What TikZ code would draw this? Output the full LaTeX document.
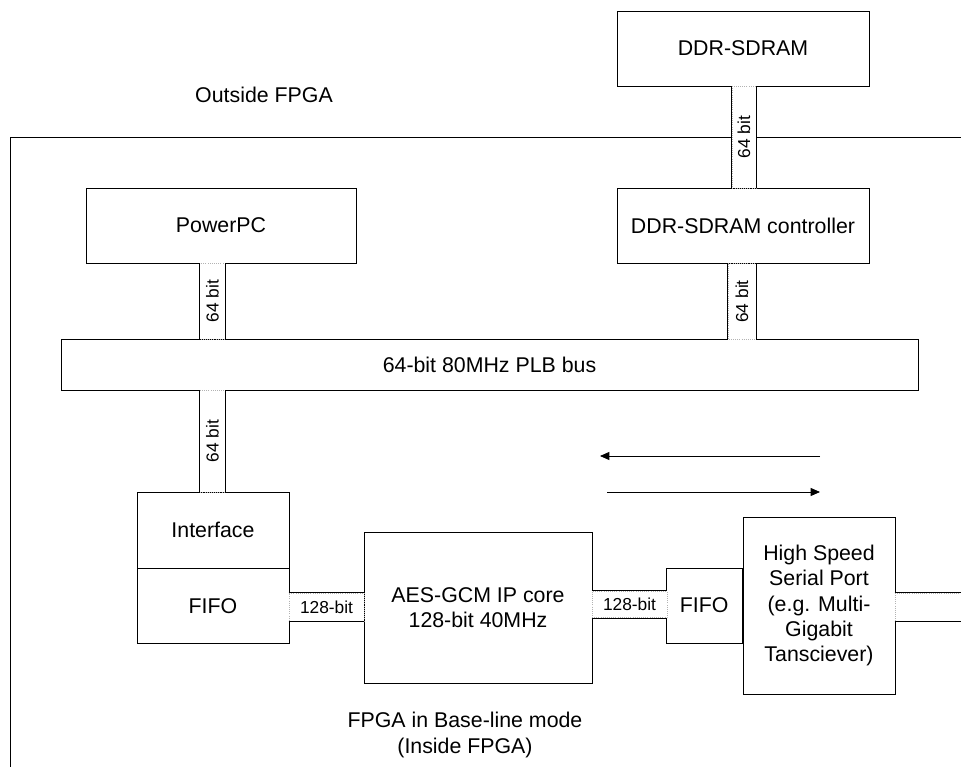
\documentclass[tikz,border=0pt]{standalone}
\usepackage{fontspec}
\setmainfont{Liberation Sans}
\usetikzlibrary{positioning}
\usetikzlibrary{arrows.meta}

\begin{document}
\begin{tikzpicture}[
            x=0.75pt, y=-0.75pt, line width=0.6pt,
            >={Triangle[length=7pt, width=6pt]},
            block/.style={draw, rectangle, inner sep=0pt, align=center, font=\fontsize{16}{19}\selectfont},
            label/.style={align=center, font=\fontsize{16}{19}\selectfont},
            vbus/.style={draw=gray!60, densely dotted, fill=white, rectangle, rotate=90, inner sep=0pt, minimum height=19pt, font=\fontsize{13}{15}\selectfont},
            hbus/.style={draw=gray!60, densely dotted, fill=white, rectangle, inner sep=0pt, minimum height=21pt, font=\fontsize{13}{15}\selectfont}
        ]
            \useasboundingbox (0,0) rectangle (961,767);

            % FPGA frame
            \draw (10,767) |- (961,137);
            \node[label] (outside) at (264,95) {Outside FPGA};
            \node[label] (inside) at (465,735) {FPGA in Base-line mode\\(Inside FPGA)};

            % Memory
            \node[block, minimum width=189pt, minimum height=56.25pt] (ddr) at (743,48.5) {DDR-SDRAM};
            \node[block, minimum width=189pt, minimum height=56.25pt, below=76.5pt of ddr] (ctrl) {DDR-SDRAM controller};

            % Processor and bus
            \node[block, minimum width=202.5pt, minimum height=56.25pt] (ppc) at (221,225.5) {PowerPC};
            \node[block, minimum width=642.75pt, minimum height=38.25pt] (plb) at (489.5,364.5) {64-bit 80MHz PLB bus};

            % Crypto path
            \node[block, minimum width=114pt, minimum height=57pt] (iface) at (213,530) {Interface};
            \node[block, minimum width=114pt, minimum height=56.25pt, below=0pt of iface] (fifol) {FIFO};
            \node[block, minimum width=171pt, minimum height=113.25pt] (aes) at (478,607.5) {AES-GCM IP core\\128-bit 40MHz};
            \node[block, minimum width=114pt, minimum height=132.75pt] (hssp) at (819,605.5) {High Speed\\Serial Port\\(e.g. Multi-\\Gigabit\\Tansciever)};
            \node[block, minimum width=57pt, minimum height=56.25pt, left=0pt of hssp] (fifor) {FIFO};

            % Buses
            \node[vbus, minimum width=76.5pt, minimum height=18pt] (ddrbus) at (744,137) {64 bit};
            \node[vbus, minimum width=57pt, minimum height=21pt] (ctrlbus) at (742,301.5) {64 bit};
            \node[vbus, minimum width=57pt] (ppcbus) at (212.5,301) {64 bit};
            \node[vbus, minimum width=76.5pt] (ifbus) at (212.5,441) {64 bit};
            \node[hbus, minimum width=56.25pt] (aesin) at (326.5,607) {128-bit};
            \node[hbus, minimum width=56.25pt, minimum height=20pt] (aesout) at (629.5,604.5) {128-bit};
            \node[hbus, minimum width=60pt] (serial) at (935,607) {};
            \foreach \b in {ddrbus, ctrlbus, ppcbus, ifbus, aesin, aesout, serial} {
                \draw (\b.north west) -- (\b.north east);
                \draw (\b.south west) -- (\b.south east);
            }

            % Direction arrows
            \coordinate (rxstart) at (820,456);
            \coordinate (rxend) at (600,456);
            \coordinate (txstart) at (607,492);
            \coordinate (txend) at (820,492);
            \draw[->] (rxstart) -- (rxend);
            \draw[->] (txstart) -- (txend);
        \end{tikzpicture}
\end{document}
